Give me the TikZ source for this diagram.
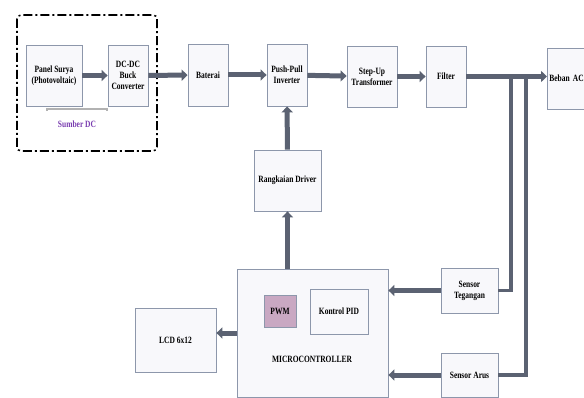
\documentclass[tikz,border=0pt]{standalone}
\usepackage{fontspec}
\setmainfont[FakeStretch=0.78]{Liberation Serif}
\usetikzlibrary{arrows.meta}
\definecolor{boxline}{HTML}{8D97AB}
\definecolor{boxfill}{HTML}{F8F8FB}
\definecolor{flow}{HTML}{5B6272}
\definecolor{pwmfill}{HTML}{C9A8C2}
\definecolor{sumber}{HTML}{7A3EB0}
\tikzset{
  blok/.style={draw=boxline, fill=boxfill, line width=0.8pt, align=center,
    inner sep=1pt, font=\fontsize{9.6}{11}\selectfont\bfseries},
  panah/.style={draw=flow, line width=5pt, -{Triangle[length=6pt,width=11pt]}},
  umpan/.style={draw=flow, line width=3.5pt}
}
\begin{document}
\begin{tikzpicture}[x=1pt, y=-1pt]
  \useasboundingbox (0,0) rectangle (584,398);
  % Sumber DC group
  \draw[line width=1.6pt, rounded corners=4pt,
    dash pattern=on 9pt off 3pt on 2pt off 3pt] (17,15) rectangle (157,151);
  \node[blok, minimum width=56, minimum height=61] (panel) at (54,75.5) {Panel Surya\\(Photovoltaic)};
  \node[blok, minimum width=40, minimum height=61] (buck) at (128,75.5) {DC-DC\\Buck\\Converter};
  \draw[gray!60, line width=1.5pt] (47,111) -- (47,109) -- (107,109) -- (107,111);
  \node[text=sumber, font=\fontsize{9.6}{11}\selectfont\bfseries] (labelDC) at (77,124) {Sumber DC};
  % Main power path
  \node[blok, minimum width=40, minimum height=62] (baterai) at (208,75) {Baterai};
  \node[blok, minimum width=40, minimum height=62] (inverter) at (287,75) {Push-Pull\\Inverter};
  \node[blok, minimum width=50, minimum height=61] (stepup) at (372,76.5) {Step-Up\\Transformer};
  \node[blok, minimum width=40, minimum height=61] (filter) at (446,76.5) {Filter};
  \node[blok, anchor=west, text width=42, align=left, inner xsep=2pt, minimum height=61] (beban) at (547,78.5) {Beban AC};
  % Control part
  \node[blok, minimum width=67, minimum height=61] (driver) at (287.5,180.5) {Rangkaian Driver};
  \node[blok, minimum width=151, minimum height=128] (micro) at (312.5,333) {};
  \node[blok, fill=pwmfill, minimum width=32, minimum height=32] (pwm) at (280,311) {PWM};
  \node[blok, minimum width=58, minimum height=45] (pid) at (339,311.5) {Kontrol PID};
  \node[font=\fontsize{9.6}{11}\selectfont\bfseries] (mclabel) at (312,359) {MICROCONTROLLER};
  \node[blok, minimum width=81, minimum height=64] (lcd) at (175.5,340) {LCD 6x12};
  \node[blok, minimum width=57, minimum height=45] (tegangan) at (469.5,290.5) {Sensor\\Tegangan};
  \node[blok, minimum width=57, minimum height=44] (arus) at (469.5,375) {Sensor Arus};
  % Arrows
  \draw[panah] (panel) -- (buck);
  \draw[panah] (buck) -- (baterai);
  \draw[panah] (baterai) -- (inverter);
  \draw[panah] (inverter) -- (stepup);
  \draw[panah] (stepup) -- (filter);
  \draw[panah] (filter.east) -- (beban.west |- filter.east);
  \draw[panah] (driver) -- (inverter);
  \draw[panah] (micro.north -| driver) -- (driver);
  \draw[panah] (micro.west) -- (micro.west -| lcd.east);
  \draw[panah] (tegangan.west) -- (tegangan.west -| micro.east);
  \draw[panah] (arus.west) -- (arus.west -| micro.east);
  % Feedback taps
  \coordinate (tapV) at (511,76.5);
  \coordinate (tapI) at (526,76.5);
  \draw[umpan] (tapV) |- (tegangan.east);
  \draw[umpan] (tapI) |- (arus.east);
\end{tikzpicture}
\end{document}
